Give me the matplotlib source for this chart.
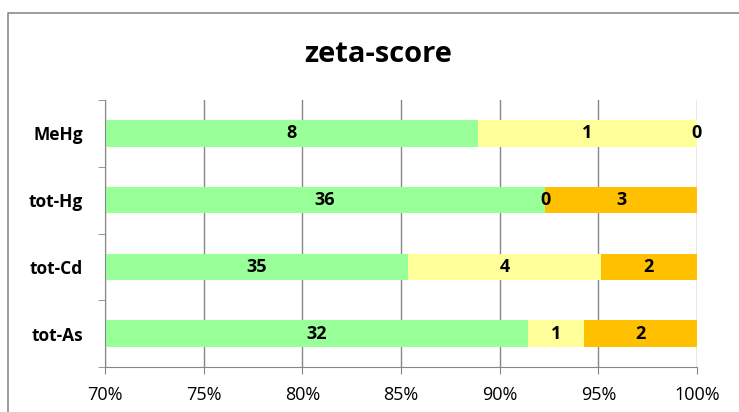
import matplotlib.pyplot as plt
from matplotlib.lines import Line2D
import numpy as np

categories = ["tot-As", "tot-Cd", "tot-Hg", "MeHg"]
satisfactory = [32, 35, 36, 8]
questionable = [1, 4, 0, 1]
unsatisfactory = [2, 2, 3, 0]
x_ticks = [70, 75, 80, 85, 90, 95, 100]

plt.rcParams['font.family'] = ['Open Sans', 'DejaVu Sans']

def main():
    counts = np.array([satisfactory, questionable, unsatisfactory], dtype=float)
    totals = counts.sum(axis=0)
    pct = counts / totals * 100

    fig = plt.figure(figsize=(7.39, 4.12), dpi=100)
    # outer chart border: only left and top edges are inside the picture
    bx, by = 8 / 739, 1 - 13 / 412
    fig.add_artist(Line2D([bx, bx, 1.0], [0.0, by, by], transform=fig.transFigure,
                          color="#8c8c8c", linewidth=1.2))
    ax = fig.add_axes([105 / 739, 45 / 412, 592 / 739, 267 / 412])

    y = np.arange(len(categories))
    colors = ["#99FF99", "#FFFF99", "#FFC000"]
    left = np.zeros(len(categories))
    for i in range(3):
        bars = ax.barh(y, pct[i], left=left, height=0.4, color=colors[i], zorder=2)
        ax.bar_label(bars, labels=[str(int(v)) for v in counts[i]], label_type="center",
                     fontsize=13, fontweight="bold", zorder=3)
        left += pct[i]

    ax.set_xlim(70, 100)
    ax.set_ylim(-0.5, 3.5)
    ax.set_xticks(x_ticks)
    ax.set_xticklabels([f"{t}%" for t in x_ticks], fontsize=13)
    ax.set_yticks(y)
    ax.set_yticklabels(categories, fontsize=12.5, fontweight="bold")
    ax.set_yticks(np.arange(-0.5, 4, 1), minor=True)
    ax.tick_params(axis="y", which="major", length=0, pad=16)
    ax.tick_params(axis="y", which="minor", length=5, color="#868686", direction="out")
    ax.tick_params(axis="x", length=5, color="#868686", pad=9)
    ax.xaxis.grid(True, color="#868686", linewidth=1, zorder=0)
    for s in ["top", "right"]:
        ax.spines[s].set_visible(False)
    for s in ["left", "bottom"]:
        ax.spines[s].set_color("#868686")

    fig.text(378 / 739, 1 - 55 / 412, "zeta-score", ha="center", va="center",
             fontsize=21, fontweight="bold")
    fig.savefig("out.png", dpi=100)

if __name__ == "__main__":
    main()
